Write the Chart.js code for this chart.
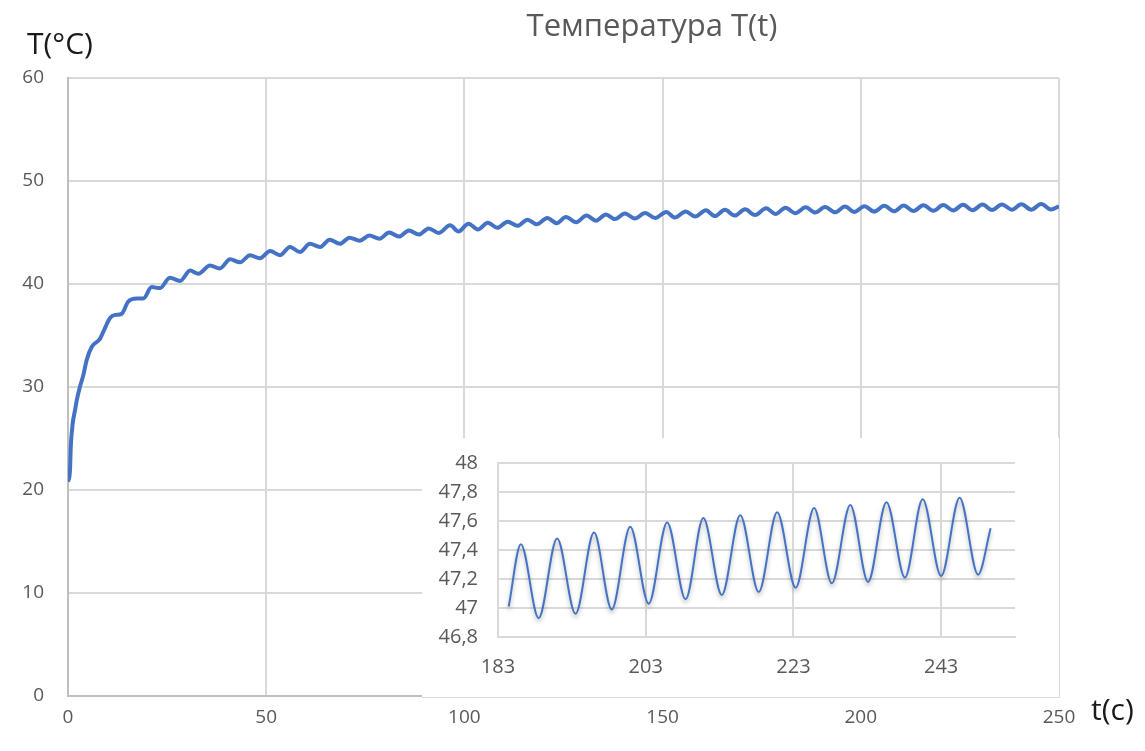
<!DOCTYPE html>
<html>
<head>
<meta charset="utf-8">
<title>Температура T(t)</title>
<script src="https://cdn.jsdelivr.net/npm/chart.js@4.4.1/dist/chart.umd.min.js"></script>
<style>
    html, body { margin: 0; padding: 0; background: #fff; }
    #wrap { position: relative; width: 1145px; height: 751px; }
    #main-chart { position: absolute; left: 0; top: 0; }
    #inset-box {
        position: absolute; left: 422px; top: 438px; width: 637px; height: 259px;
        background: #fff; border-right: 1px solid #d9d9d9; border-bottom: 1px solid #d9d9d9;
    }
</style>
</head>
<body>
<div id="wrap">
    <canvas id="main-chart" width="1145" height="751"></canvas>
    <div id="inset-box"><canvas id="inset-chart" width="637" height="259"></canvas></div>
</div>
<script>
// main curve T(t) (peaks and troughs of the ripple)
var mainTimes = [
    0, 0.5, 0.7, 1.2, 1.8, 2.2, 3.0, 3.9, 4.7, 6.0, 8.1, 9.3, 10.6, 11.9, 13.5, 15.2, 17.3, 19.0,
    21.1, 23.2, 25.7, 28.3, 30.8, 32.9, 35.8, 38.3, 40.9, 43.4, 45.9, 48.4, 51.0, 53.5, 56.0, 58.5,
    61.0, 63.6, 66.0, 68.6, 71.0, 73.6, 76.0, 78.6, 81.0, 83.5, 86.0, 88.5, 91.0, 93.5, 96.4, 98.5,
    101.0, 103.4, 105.9, 108.3, 110.9, 113.4, 115.9, 118.2, 120.9, 123.3, 125.6, 128.2, 130.8, 133.2,
    135.7, 138.0, 140.5, 143.0, 145.6, 148.1, 150.9, 153.1, 155.8, 158.2, 160.9, 163.2, 165.7, 168.2,
    170.8, 173.3, 176.1, 178.5, 181.0, 183.5, 186.1, 188.5, 191.0, 193.5, 196.0, 198.4, 200.9, 203.4,
    205.9, 208.4, 210.8, 213.3, 215.8, 218.3, 220.8, 223.3, 225.8, 228.2, 230.7, 233.1, 235.6, 238.1,
    240.5, 243.0, 245.5, 248.0, 250.0
];
var mainTemps = [
    20.8, 21.9, 24.2, 26.5, 27.8, 28.7, 30.0, 31.2, 32.6, 33.9, 34.7, 35.7, 36.7, 37.0, 37.1, 38.3, 38.6, 38.6,
    39.7, 39.6, 40.6, 40.3, 41.3, 41.0, 41.8, 41.5, 42.4, 42.1, 42.8, 42.5, 43.2, 42.8, 43.6, 43.1,
    43.9, 43.6, 44.3, 43.9, 44.5, 44.2, 44.7, 44.4, 45.0, 44.6, 45.2, 44.8, 45.4, 44.95, 45.7, 45.1,
    45.85, 45.3, 45.95, 45.45, 46.05, 45.65, 46.25, 45.8, 46.4, 45.9, 46.5, 46.0, 46.65, 46.15,
    46.75, 46.3, 46.85, 46.35, 46.9, 46.4, 47.0, 46.45, 47.05, 46.55, 47.15, 46.6, 47.2, 46.65,
    47.25, 46.7, 47.35, 46.8, 47.4, 46.88, 47.44, 46.93, 47.48, 46.96, 47.52, 46.99, 47.56, 47.03,
    47.59, 47.06, 47.62, 47.09, 47.64, 47.11, 47.66, 47.14, 47.69, 47.17, 47.71, 47.18, 47.73, 47.21,
    47.75, 47.22, 47.76, 47.23, 47.55
];
var mainXTicks = [0, 50, 100, 150, 200, 250];
var mainYTicks = [0, 10, 20, 30, 40, 50, 60];

// zoomed part, 183..253 s
var insetTimes = [
    184.45, 186.1, 188.5, 191.0, 193.5, 196.0, 198.4, 200.9, 203.4, 205.9, 208.4, 210.8, 213.3,
    215.8, 218.3, 220.8, 223.3, 225.8, 228.2, 230.7, 233.1, 235.6, 238.1, 240.5, 243.0, 245.5, 248.0, 249.7
];
var insetTemps = [
    47.01, 47.44, 46.93, 47.48, 46.96, 47.52, 46.99, 47.56, 47.03, 47.59, 47.06, 47.62, 47.09,
    47.64, 47.11, 47.66, 47.14, 47.69, 47.17, 47.71, 47.18, 47.73, 47.21, 47.75, 47.22, 47.76, 47.23, 47.55
];
var insetXTicks = [183, 203, 223, 243];
var insetYTicks = [46.8, 47, 47.2, 47.4, 47.6, 47.8, 48];

var lineColor = "#4472c4";
var gridColor = "#d9d9d9";
var tickColor = "#595959";
var fontFamily = "'Open Sans', 'Noto Sans', sans-serif";

function toPoints(xs, ys) {
    return xs.map(function(x, i) { return { x: x, y: ys[i] }; });
}

function fixedTicks(values) {
    return function(scale) {
        scale.ticks = values.map(function(v) { return { value: v }; });
    };
}

function commaLabel(v) {
    return String(+v.toFixed(1)).replace(".", ",");
}

// title and axis names sit outside the usual places, so draw them here
var labelsPlugin = {
    id: "labels",
    afterDraw: function(chart) {
        var ctx = chart.ctx;
        ctx.save();
        ctx.textBaseline = "middle";
        ctx.fillStyle = tickColor;
        ctx.textAlign = "center";
        ctx.font = "31px " + fontFamily;
        ctx.fillText("Температура T(t)", 652, 27);
        ctx.fillStyle = "#1a1a1a";
        ctx.textAlign = "left";
        ctx.font = "30px " + fontFamily;
        ctx.fillText("T(°C)", 27, 45);
        ctx.fillText("t(c)", 1091, 711);
        ctx.restore();
    }
};

var shadowPlugin = {
    id: "shadow",
    beforeDatasetsDraw: function(chart) {
        var ctx = chart.ctx;
        ctx.save();
        ctx.shadowColor = "rgba(0, 0, 0, 0.3)";
        ctx.shadowBlur = 4;
        ctx.shadowOffsetY = 3;
    },
    afterDatasetsDraw: function(chart) {
        chart.ctx.restore();
    }
};

document.addEventListener("DOMContentLoaded", function() {
    new Chart(document.getElementById("main-chart").getContext("2d"), {
        type: "line",
        data: {
            datasets: [{
                data: toPoints(mainTimes, mainTemps),
                borderColor: lineColor,
                borderWidth: 4,
                pointRadius: 0,
                cubicInterpolationMode: "monotone",
                fill: false
            }]
        },
        plugins: [labelsPlugin],
        options: {
            responsive: false,
            animation: false,
            devicePixelRatio: 1,
            layout: { padding: { top: 78, right: 86, bottom: 0, left: 0 } },
            plugins: { legend: { display: false }, tooltip: { enabled: false }, title: { display: false } },
            scales: {
                x: {
                    type: "linear",
                    min: 0,
                    max: 250,
                    afterBuildTicks: fixedTicks(mainXTicks),
                    afterFit: function(s) { s.height = 55; s.paddingLeft = 0; s.paddingRight = 0; },
                    grid: { color: gridColor, lineWidth: 2, drawTicks: false },
                    border: { color: "#bfbfbf", width: 2 },
                    ticks: { color: tickColor, padding: 10, font: { family: fontFamily, size: 19 } }
                },
                y: {
                    min: 0,
                    max: 60,
                    afterBuildTicks: fixedTicks(mainYTicks),
                    afterFit: function(s) { s.width = 68; s.paddingTop = 0; s.paddingBottom = 0; },
                    grid: { color: gridColor, lineWidth: 2, drawTicks: false },
                    border: { color: "#bfbfbf", width: 2 },
                    ticks: { color: tickColor, padding: 24, font: { family: fontFamily, size: 19 } }
                }
            }
        }
    });

    new Chart(document.getElementById("inset-chart").getContext("2d"), {
        type: "line",
        data: {
            datasets: [{
                data: toPoints(insetTimes, insetTemps),
                borderColor: lineColor,
                borderWidth: 2,
                pointRadius: 0,
                cubicInterpolationMode: "monotone",
                fill: false
            }]
        },
        plugins: [shadowPlugin],
        options: {
            responsive: false,
            animation: false,
            devicePixelRatio: 1,
            layout: { padding: { top: 25, right: 44, bottom: 0, left: 0 } },
            plugins: { legend: { display: false }, tooltip: { enabled: false } },
            scales: {
                x: {
                    type: "linear",
                    min: 183,
                    max: 253,
                    afterBuildTicks: fixedTicks(insetXTicks),
                    afterFit: function(s) { s.height = 60; s.paddingLeft = 0; s.paddingRight = 0; },
                    grid: { color: gridColor, lineWidth: 2, drawTicks: false },
                    border: { color: gridColor, width: 2 },
                    ticks: { color: tickColor, padding: 18, font: { family: fontFamily, size: 20 } }
                },
                y: {
                    min: 46.8,
                    max: 48,
                    afterBuildTicks: fixedTicks(insetYTicks),
                    afterFit: function(s) { s.width = 76; s.paddingTop = 0; s.paddingBottom = 0; },
                    grid: { color: gridColor, lineWidth: 2, drawTicks: false },
                    border: { color: gridColor, width: 2 },
                    ticks: {
                        color: tickColor,
                        padding: 20,
                        font: { family: fontFamily, size: 20 },
                        callback: function(v) { return commaLabel(v); }
                    }
                }
            }
        }
    });
});
</script>
</body>
</html>
